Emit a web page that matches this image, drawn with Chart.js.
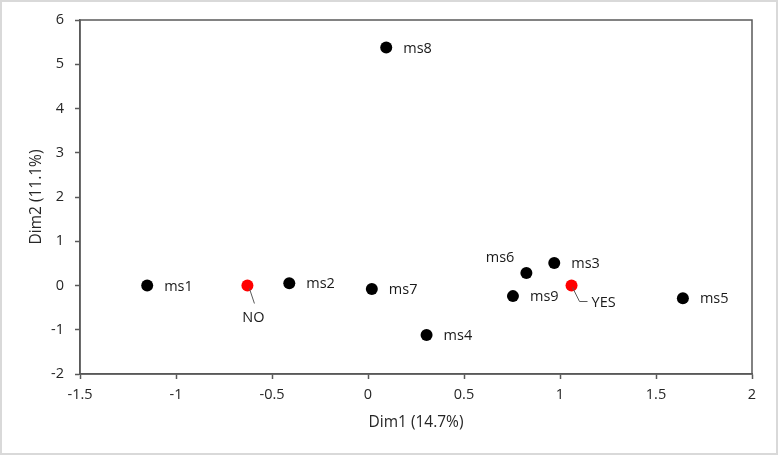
<!DOCTYPE html>
<html>
<head>
<meta charset="utf-8">
<script src="https://cdn.jsdelivr.net/npm/chart.js@4"></script>
<style>
  html, body { margin: 0; padding: 0; background: #fff; }
  #wrap { width: 778px; height: 456px; position: relative; }
</style>
</head>
<body>
<div id="wrap"><canvas id="chart" width="778" height="456"></canvas></div>
<script>
// sample points (black)
const sampleNames = ["ms1", "ms2", "ms3", "ms4", "ms5", "ms6", "ms7", "ms8", "ms9"];
const sampleDim1 = [-1.15, -0.41, 0.97, 0.305, 1.64, 0.825, 0.02, 0.095, 0.755];
const sampleDim2 = [0.0, 0.05, 0.51, -1.12, -0.29, 0.28, -0.08, 5.38, -0.24];

// group centres (red)
const groupNames = ["NO", "YES"];
const groupDim1 = [-0.628, 1.06];
const groupDim2 = [0.0, 0.0];

const xTicks = [-1.5, -1, -0.5, 0, 0.5, 1, 1.5, 2];
const yTicks = [-2, -1, 0, 1, 2, 3, 4, 5, 6];

const axisColor = "#595959";
const textColor = "#262626";
const font = "Open Sans";

function toPoints(xs, ys) {
  return xs.map((x, i) => ({ x: x, y: ys[i] }));
}

// frame round the whole picture + box round the plot
const framePlugin = {
  id: "frame",
  beforeDraw(chart) {
    const c = chart.ctx;
    c.save();
    c.fillStyle = "#fff";
    c.fillRect(0, 0, chart.width, chart.height);
    c.strokeStyle = "#d9d9d9";
    c.lineWidth = 2;
    c.strokeRect(1, 1, chart.width - 2, chart.height - 3);
    c.restore();
  },
  afterDraw(chart) {
    const a = chart.chartArea;
    const c = chart.ctx;
    c.save();
    c.strokeStyle = axisColor;
    c.lineWidth = 1.5;
    c.strokeRect(a.left, a.top, a.right - a.left, a.bottom - a.top);
    c.restore();
  }
};

// point labels, drawn next to each marker
const labelPlugin = {
  id: "pointLabels",
  afterDatasetsDraw(chart) {
    const c = chart.ctx;
    c.save();
    c.font = "14.5px " + font;
    c.fillStyle = "#1a1a1a";
    c.textBaseline = "middle";

    const ms = chart.getDatasetMeta(0).data;
    ms.forEach((pt, i) => {
      if (sampleNames[i] === "ms6") {
        c.textAlign = "right";
        c.fillText(sampleNames[i], pt.x - 12, pt.y - 15);
      } else {
        c.textAlign = "left";
        c.fillText(sampleNames[i], pt.x + 17, pt.y + 1);
      }
    });

    const grp = chart.getDatasetMeta(1).data;
    c.strokeStyle = axisColor;
    c.lineWidth = 1;
    // NO: label below with a short leader
    let p = grp[0];
    c.beginPath();
    c.moveTo(p.x + 2, p.y + 3);
    c.lineTo(p.x + 7, p.y + 18);
    c.stroke();
    c.textAlign = "center";
    c.fillText(groupNames[0], p.x + 6, p.y + 32);
    // YES: leader down then right
    p = grp[1];
    c.beginPath();
    c.moveTo(p.x + 1, p.y + 2);
    c.lineTo(p.x + 8, p.y + 16);
    c.lineTo(p.x + 16, p.y + 16);
    c.stroke();
    c.textAlign = "left";
    c.fillText(groupNames[1], p.x + 20, p.y + 17);
    c.restore();
  }
};

new Chart(document.getElementById("chart"), {
  type: "scatter",
  data: {
    datasets: [
      {
        label: "samples",
        data: toPoints(sampleDim1, sampleDim2),
        backgroundColor: "#000",
        borderWidth: 0,
        pointRadius: 6,
        pointHoverRadius: 6
      },
      {
        label: "groups",
        data: toPoints(groupDim1, groupDim2),
        backgroundColor: "#ff0000",
        borderWidth: 0,
        pointRadius: 6,
        pointHoverRadius: 6
      }
    ]
  },
  options: {
    responsive: false,
    animation: false,
    layout: { padding: { left: 0, top: 20, right: 26, bottom: 0 } },
    plugins: {
      legend: { display: false },
      tooltip: { enabled: false }
    },
    scales: {
      x: {
        type: "linear",
        min: -1.5,
        max: 2,
        afterBuildTicks(scale) { scale.ticks = xTicks.map(v => ({ value: v })); },
        afterFit(scale) { scale.height = 82; },
        grid: { drawOnChartArea: false, tickLength: 5, color: axisColor, tickWidth: 1.5 },
        border: { color: axisColor, width: 1.5 },
        ticks: {
          color: textColor,
          padding: 7,
          maxRotation: 0,
          font: { family: font, size: 14.5 },
          callback: v => String(v)
        },
        title: {
          display: true,
          text: "Dim1 (14.7%)",
          color: textColor,
          font: { family: font, size: 15.5 },
          padding: { bottom: 24 }
        }
      },
      y: {
        type: "linear",
        min: -2,
        max: 6,
        afterBuildTicks(scale) { scale.ticks = yTicks.map(v => ({ value: v })); },
        afterFit(scale) { scale.width = 80; },
        grid: { drawOnChartArea: false, tickLength: 5, color: axisColor, tickWidth: 1.5 },
        border: { color: axisColor, width: 1.5 },
        ticks: {
          color: textColor,
          padding: 11,
          font: { family: font, size: 14.5 },
          callback: v => String(v)
        },
        title: {
          display: true,
          text: "Dim2 (11.1%)",
          color: textColor,
          font: { family: font, size: 15.5 },
          padding: { top: 27 }
        }
      }
    }
  },
  plugins: [framePlugin, labelPlugin]
});
</script>
</body>
</html>
